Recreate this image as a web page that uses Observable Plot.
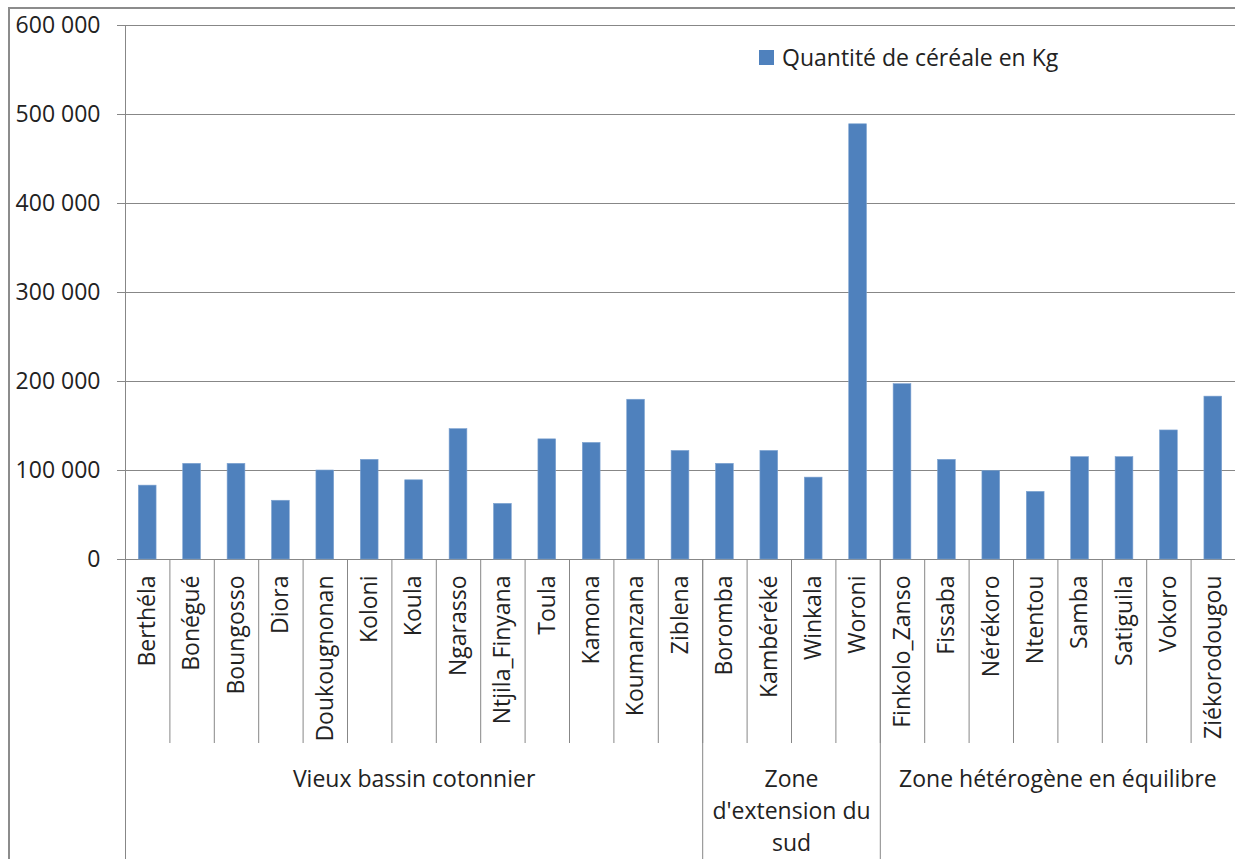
<!DOCTYPE html>
<html>
<head>
<meta charset="utf-8">
<script src="https://cdn.jsdelivr.net/npm/d3@7"></script>
<script src="https://cdn.jsdelivr.net/npm/@observablehq/plot@0.6"></script>
<style>
  html, body { margin: 0; padding: 0; background: #fff; overflow: hidden; }
  #wrap { position: relative; width: 1235px; height: 859px; }
  #border { position: absolute; left: 8px; top: 7px; width: 1300px; height: 900px;
            border-left: 2px solid #8c8c8c; border-top: 2px solid #8c8c8c; pointer-events: none; }
  #legend { position: absolute; left: 759px; top: 41px; font-family: 'Open Sans', sans-serif;
            font-size: 23px; color: #222; display: flex; align-items: center; white-space: nowrap; }
  #legend .sw { width: 15px; height: 15px; background: #4f81bd; margin-right: 8px; }
</style>
</head>
<body>
<div id="wrap"><div id="border"></div></div>
<script>
const names = ["Berthéla","Bonégué","Boungosso","Diora","Doukougnonan","Koloni","Koula","Ngarasso","Ntjila_Finyana","Toula","Kamona","Koumanzana","Ziblena","Boromba","Kambéréké","Winkala","Woroni","Finkolo_Zanso","Fissaba","Nérékoro","Ntentou","Samba","Satiguila","Vokoro","Ziékorodougou"];
const zoneOf = ["Vieux bassin cotonnier","Vieux bassin cotonnier","Vieux bassin cotonnier","Vieux bassin cotonnier","Vieux bassin cotonnier","Vieux bassin cotonnier","Vieux bassin cotonnier","Vieux bassin cotonnier","Vieux bassin cotonnier","Vieux bassin cotonnier","Vieux bassin cotonnier","Vieux bassin cotonnier","Vieux bassin cotonnier","Zone\nd'extension du\nsud","Zone\nd'extension du\nsud","Zone\nd'extension du\nsud","Zone\nd'extension du\nsud","Zone hétérogène en équilibre","Zone hétérogène en équilibre","Zone hétérogène en équilibre","Zone hétérogène en équilibre","Zone hétérogène en équilibre","Zone hétérogène en équilibre","Zone hétérogène en équilibre","Zone hétérogène en équilibre"];
const values = [83000,107500,107500,66000,100000,112000,89000,146500,62500,135000,131000,179500,122000,107500,122000,92000,489000,197000,112000,99500,76000,115000,115000,145000,183000];
const yTicks = [0,100000,200000,300000,400000,500000,600000];
const yTickLabels = ["0","100\u00a0000","200\u00a0000","300\u00a0000","400\u00a0000","500\u00a0000","600\u00a0000"];
const seriesName = "Quantité de céréale en Kg";

const W = 1235, H = 859, mL = 125, mR = 0, mT = 25, mB = 300;
const step = (W - mL - mR) / names.length;
const fontSize = 23;
const lineColor = "#878787";
const textColor = "#222";

const rows = names.map((n, i) => ({name: n, value: values[i], zone: zoneOf[i]}));

// zone groups
const zones = [];
rows.forEach((r, i) => {
  let z = zones.find(g => g.zone === r.zone);
  if (!z) { z = {zone: r.zone, start: i, count: 0}; zones.push(z); }
  z.count++;
});
const zonesOdd = zones.filter(z => z.count % 2 === 1).map(z => ({label: z.zone, at: names[z.start + (z.count - 1) / 2]}));
const zonesEven = zones.filter(z => z.count % 2 === 0).map(z => ({label: z.zone, at: names[z.start + z.count / 2 - 1]}));
const zoneStarts = zones.map(z => names[z.start]);

const chart = Plot.plot({
  width: W, height: H,
  marginLeft: mL, marginRight: mR, marginTop: mT, marginBottom: mB,
  style: {fontFamily: "'Open Sans', sans-serif", fontSize: fontSize + "px", color: textColor, background: "transparent"},
  x: {type: "band", domain: names, paddingInner: 0.6, paddingOuter: 0.3, round: false, label: null, axis: null},
  y: {domain: [0, 600000], label: null, axis: null},
  marks: [
    Plot.gridY(yTicks, {stroke: lineColor, strokeOpacity: 1, strokeWidth: 1}),
    Plot.barY(rows, {x: "name", y: "value", fill: "#4f81bd", stroke: "#7ea3d1", strokeWidth: 0.6}),
    Plot.ruleX([names[0]], {dx: -step / 2, stroke: lineColor}),
    Plot.axisY(yTicks, {tickSize: 8, tickPadding: 17, stroke: lineColor, fill: textColor, fontSize,
      tickFormat: d => yTickLabels[yTicks.indexOf(d)], label: null}),
    Plot.axisX(names.slice(1), {tickSize: 184, dx: -step / 2, stroke: lineColor, fill: "none", label: null}),
    Plot.axisX(zoneStarts, {tickSize: 300, dx: -step / 2, stroke: lineColor, fill: "none", label: null}),
    Plot.axisX(names, {tickSize: 0, tickPadding: 16, tickRotate: -90, fill: textColor, fontSize, label: null}),
    Plot.text(zonesOdd, {x: "at", text: "label", frameAnchor: "bottom", dy: 205, lineAnchor: "top",
      lineHeight: 1.38, fontSize, fill: textColor}),
    Plot.text(zonesEven, {x: "at", text: "label", frameAnchor: "bottom", dy: 205, dx: step / 2, lineAnchor: "top",
      lineHeight: 1.38, fontSize, fill: textColor})
  ]
});

const wrap = document.getElementById("wrap");
wrap.insertBefore(chart, wrap.firstChild);
chart.style.position = "absolute";
chart.style.left = "0px";
chart.style.top = "0px";

const legend = document.createElement("div");
legend.id = "legend";
const sw = document.createElement("div");
sw.className = "sw";
const lt = document.createElement("span");
lt.textContent = seriesName;
legend.appendChild(sw);
legend.appendChild(lt);
wrap.appendChild(legend);
</script>
</body>
</html>
